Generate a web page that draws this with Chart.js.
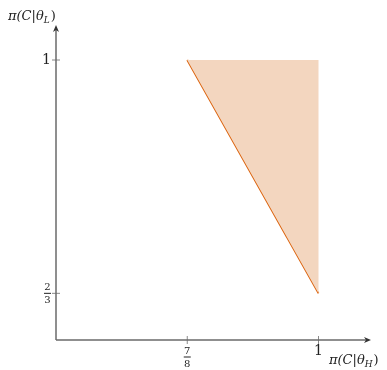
<!DOCTYPE html>
<html>
<head>
<meta charset="utf-8">
<script src="https://cdn.jsdelivr.net/npm/chart.js@4.4.0/dist/chart.umd.min.js"></script>
<style>
  html, body { margin: 0; padding: 0; background: #fff; }
  #wrap { width: 387px; height: 370px; }
</style>
</head>
<body>
<div id="wrap"><canvas id="chart" width="387" height="370"></canvas></div>
<script>
// boundary line
const lineX = [7 / 8, 1];
const lineY = [1, 2 / 3];
// shaded region corners
const regionX = [7 / 8, 1, 1];
const regionY = [1, 1, 2 / 3];
// ticks: value + label (fraction as [num, den])
const xTicks = [7 / 8, 1];
const xTickLabels = [["7", "8"], "1"];
const yTicks = [2 / 3, 1];
const yTickLabels = [["2", "3"], "1"];
const xTitle = "π(C|θ";
const xTitleSub = "H";
const yTitle = "π(C|θ";
const yTitleSub = "L";

const AXIS = "#6b6b6b";
const SERIF = "'DejaVu Serif', 'Liberation Serif', serif";

function drawLabel(ctx, lab, x, y, align) {
  ctx.fillStyle = "#222";
  ctx.textBaseline = "middle";
  if (Array.isArray(lab)) {
    ctx.font = "10px " + SERIF;
    ctx.textAlign = "center";
    const w = 7;
    const cx = align === "right" ? x - w / 2 : x;
    ctx.fillText(lab[0], cx, y - 6);
    ctx.fillText(lab[1], cx, y + 7);
    ctx.fillRect(cx - w / 2, y - 0.5, w, 1);
  } else {
    ctx.font = "14px " + SERIF;
    ctx.textAlign = align;
    ctx.fillText(lab, x, y);
  }
}

function drawTitle(ctx, main, sub, x, y) {
  ctx.fillStyle = "#222";
  ctx.textBaseline = "alphabetic";
  ctx.textAlign = "left";
  ctx.font = "italic 13px " + SERIF;
  ctx.fillText(main, x, y);
  let w = ctx.measureText(main).width;
  ctx.font = "italic 9px " + SERIF;
  ctx.fillText(sub, x + w, y + 3);
  w += ctx.measureText(sub).width;
  ctx.font = "13px " + SERIF;
  ctx.fillText(")", x + w + 1, y);
}

const axesPlugin = {
  id: "axes",
  afterDraw(chart) {
    const ctx = chart.ctx;
    const xs = chart.scales.x, ys = chart.scales.y;
    const x0 = xs.getPixelForValue(xs.min), x1 = xs.getPixelForValue(xs.max);
    const y0 = ys.getPixelForValue(ys.min), y1 = ys.getPixelForValue(ys.max);
    ctx.save();
    ctx.strokeStyle = AXIS;
    ctx.fillStyle = AXIS;
    ctx.lineWidth = 1.5;
    ctx.beginPath();
    ctx.moveTo(x0, y0); ctx.lineTo(x1 - 4, y0);
    ctx.moveTo(x0, y0); ctx.lineTo(x0, y1 + 4);
    ctx.stroke();
    // arrow heads
    ctx.fillStyle = "#333";
    ctx.beginPath();
    ctx.moveTo(x1, y0); ctx.lineTo(x1 - 7, y0 - 3); ctx.lineTo(x1 - 5, y0); ctx.lineTo(x1 - 7, y0 + 3);
    ctx.closePath(); ctx.fill();
    ctx.beginPath();
    ctx.moveTo(x0, y1); ctx.lineTo(x0 - 3, y1 + 7); ctx.lineTo(x0, y1 + 5); ctx.lineTo(x0 + 3, y1 + 7);
    ctx.closePath(); ctx.fill();
    // ticks
    ctx.lineWidth = 0.8;
    ctx.strokeStyle = AXIS;
    xTicks.forEach((v, i) => {
      const px = xs.getPixelForValue(v);
      ctx.beginPath(); ctx.moveTo(px, y0 - 4); ctx.lineTo(px, y0 + 4); ctx.stroke();
      const lab = xTickLabels[i];
      drawLabel(ctx, lab, px, Array.isArray(lab) ? y0 + 17 : y0 + 11, "center");
    });
    yTicks.forEach((v, i) => {
      const py = ys.getPixelForValue(v);
      ctx.beginPath(); ctx.moveTo(x0 - 4, py); ctx.lineTo(x0 + 4, py); ctx.stroke();
      drawLabel(ctx, yTickLabels[i], x0 - 5, py, "right");
    });
    drawTitle(ctx, xTitle, xTitleSub, 329, 364);
    drawTitle(ctx, yTitle, yTitleSub, 8, 20);
    ctx.restore();
  }
};

new Chart(document.getElementById("chart"), {
  type: "scatter",
  data: {
    datasets: [
      {
        data: regionX.map((x, i) => ({ x, y: regionY[i] })),
        showLine: true,
        fill: "shape",
        backgroundColor: "rgba(243, 214, 191, 1)",
        borderWidth: 0,
        pointRadius: 0,
      },
      {
        data: lineX.map((x, i) => ({ x, y: lineY[i] })),
        showLine: true,
        borderColor: "#dc630d",
        borderWidth: 1.8,
        pointRadius: 0,
      },
    ],
  },
  options: {
    responsive: false,
    animation: false,
    layout: { padding: { left: 56, top: 25, right: 16, bottom: 30 } },
    plugins: { legend: { display: false }, tooltip: { enabled: false } },
    scales: {
      x: { type: "linear", min: 0.75, max: 1.05, display: false },
      y: { type: "linear", min: 0.6, max: 1.05, display: false },
    },
  },
  plugins: [axesPlugin],
});
</script>
</body>
</html>
